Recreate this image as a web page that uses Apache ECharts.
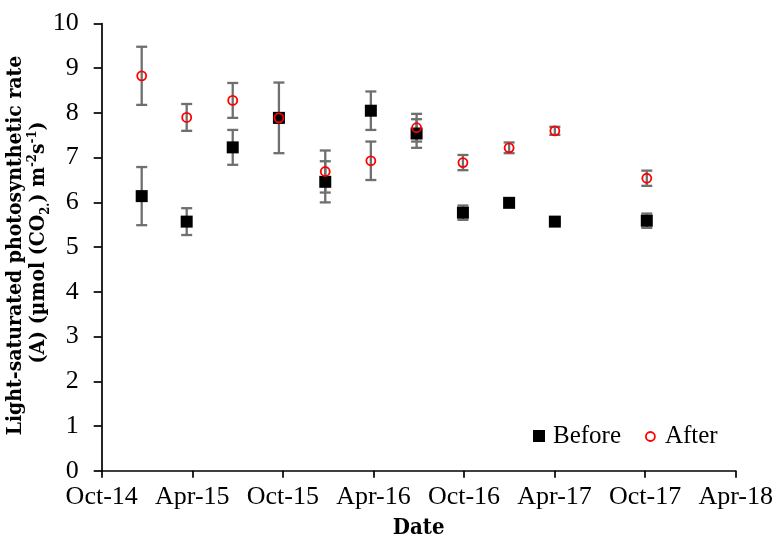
<!DOCTYPE html>
<html><head><meta charset="utf-8">
<script src="https://cdn.jsdelivr.net/npm/echarts@6/dist/echarts.min.js"></script>
<style>html,body{margin:0;padding:0;background:#fff}#c{width:777px;height:538px}</style>
</head><body><div id="c"></div>
<script>
// X positions: months after Oct-2014
const tickLabels = ['Oct-14','Apr-15','Oct-15','Apr-16','Oct-16','Apr-17','Oct-17','Apr-18'];
const months = [2.65, 5.63, 8.68, 11.74, 14.81, 17.83, 20.86, 23.93, 26.99, 30.02, 36.11];
const beforeMean = [6.14, 5.57, 7.23, 7.89, 6.46, 8.05, 7.54, 5.77, 5.99, 5.57, 5.59];
const beforeErr  = [0.65, 0.30, 0.39, 0.79, 0.46, 0.43, 0.32, 0.16, 0.05, 0.03, 0.16];
const afterMean  = [8.83, 7.90, 8.28, 7.89, 6.69, 6.93, 7.67, 6.89, 7.22, 7.60, 6.54];
const afterErr   = [0.65, 0.30, 0.39, 0.10, 0.47, 0.43, 0.31, 0.17, 0.12, 0.09, 0.17];

const serif = '"Liberation Serif", "Times New Roman", serif';
const titleFont = '"DejaVu Serif Condensed", "DejaVu Serif", serif';

const chart = echarts.init(document.getElementById('c'), null, {renderer: 'canvas'});

function errData(m, e) { return months.map((x, i) => [x, m[i] - e[i], m[i] + e[i]]); }
function errRender(params, api) {
  const x = api.value(0), lo = api.value(1), hi = api.value(2);
  const pLo = api.coord([x, lo]), pHi = api.coord([x, hi]);
  const hw = 5.5;
  const style = {stroke: '#6f6f6f', lineWidth: 2.3, fill: null};
  return {type: 'group', children: [
    {type: 'line', shape: {x1: pLo[0], y1: pLo[1], x2: pHi[0], y2: pHi[1]}, style: style},
    {type: 'line', shape: {x1: pLo[0] - hw, y1: pLo[1], x2: pLo[0] + hw, y2: pLo[1]}, style: style},
    {type: 'line', shape: {x1: pHi[0] - hw, y1: pHi[1], x2: pHi[0] + hw, y2: pHi[1]}, style: style}
  ]};
}

const option = {
  backgroundColor: '#fff',
  animation: false,
  grid: {left: 101.7, right: 41.3, top: 23.5, bottom: 67.3, containLabel: false},
  xAxis: {
    type: 'value', min: 0, max: 42, interval: 6,
    axisLine: {show: true, onZero: false, lineStyle: {color: '#000', width: 1.7}},
    axisTick: {show: true, length: 7, lineStyle: {color: '#000', width: 1.7}},
    splitLine: {show: false},
    axisLabel: {margin: 13, color: '#000', fontSize: 26, fontFamily: serif,
      formatter: v => tickLabels[Math.round(v / 6)] || ''}
  },
  yAxis: {
    type: 'value', min: 0, max: 10, interval: 1,
    axisLine: {show: true, lineStyle: {color: '#000', width: 1.7}},
    axisTick: {show: true, length: 8, lineStyle: {color: '#000', width: 1.7}},
    splitLine: {show: false},
    axisLabel: {margin: 23, color: '#000', fontSize: 26, fontFamily: serif}
  },
  legend: [
    {data: ['Before'], left: 533, top: 423.5, padding: 0, itemWidth: 12, itemHeight: 12, itemGap: 0,
      textStyle: {fontSize: 25, fontFamily: serif, color: '#000', padding: [0, 0, 0, 3]}},
    {data: [{name: 'After', itemStyle: {color: 'rgba(0,0,0,0)', borderColor: '#ff0000', borderWidth: 1.8}}],
      left: 645, top: 424, padding: 0, itemWidth: 9, itemHeight: 9, itemGap: 0,
      textStyle: {fontSize: 25, fontFamily: serif, color: '#000', padding: [0, 0, 0, 5]}}
  ],
  graphic: [
    {type: 'text', x: 16, y: 245.5, rotation: Math.PI / 2,
      style: {text: 'Light-saturated photosynthetic rate', fontSize: 21, fontWeight: 'bold',
        fontFamily: titleFont, fill: '#000', align: 'center', verticalAlign: 'middle'}},
    {type: 'text', x: 39, y: 242.5, rotation: Math.PI / 2,
      style: {text: '(A) (µmol (CO{sub|2.}) m{sup|-2}s{sup|-1})', fontSize: 21, fontWeight: 'bold',
        fontFamily: titleFont, fill: '#000', align: 'center', verticalAlign: 'middle', lineHeight: 26,
        rich: {
          sub: {fontSize: 13, fontWeight: 'bold', fontFamily: titleFont, verticalAlign: 'bottom', lineHeight: 26},
          sup: {fontSize: 13, fontWeight: 'bold', fontFamily: titleFont, verticalAlign: 'top', lineHeight: 26}
        }}},
    {type: 'text', x: 418.7, y: 528,
      style: {text: 'Date', fontSize: 22, fontWeight: 'bold', fontFamily: titleFont, fill: '#000',
        align: 'center', verticalAlign: 'middle'}}
  ],
  series: [
    {name: 'BeforeErr', type: 'custom', renderItem: errRender, data: errData(beforeMean, beforeErr),
      encode: {x: 0, y: [1, 2]}, z: 1, silent: true},
    {name: 'AfterErr', type: 'custom', renderItem: errRender, data: errData(afterMean, afterErr),
      encode: {x: 0, y: [1, 2]}, z: 1, silent: true},
    {name: 'Before', type: 'scatter', symbol: 'rect', symbolSize: 12, z: 2,
      itemStyle: {color: '#000', opacity: 1},
      data: months.map((x, i) => [x, beforeMean[i]])},
    {name: 'After', type: 'scatter', symbol: 'circle', symbolSize: 9, z: 3,
      itemStyle: {color: 'rgba(0,0,0,0)', borderColor: '#ff0000', borderWidth: 1.8, opacity: 1},
      data: months.map((x, i) => [x, afterMean[i]])}
  ]
};
chart.setOption(option);
</script>
</body></html>
